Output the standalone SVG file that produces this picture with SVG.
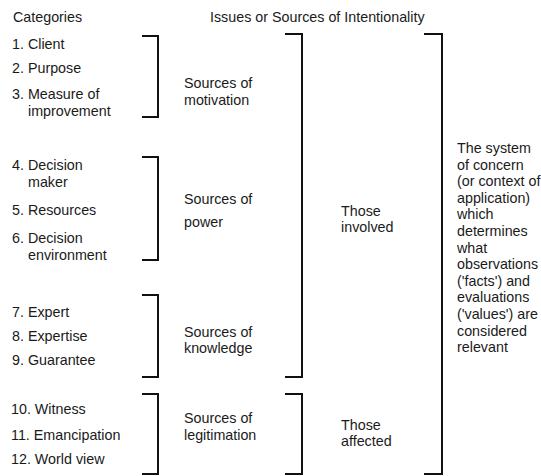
<svg xmlns="http://www.w3.org/2000/svg" width="541" height="476" viewBox="0 0 541 476">
<style>
text{font-family:"Liberation Sans",Arial,Helvetica,sans-serif;font-size:14.3px;fill:#1a1a1a}
.br{fill:none;stroke:#111;stroke-width:2}
</style>
<rect width="541" height="476" fill="#fff"/>
<g id="headers">
<text x="13" y="22">Categories</text>
<text x="210" y="22">Issues or Sources of Intentionality</text>
</g>
<g id="categories-motivation">
<text x="12" y="48.5">1. Client</text>
<text x="12" y="73">2. Purpose</text>
<text x="12" y="99">3. Measure of<tspan x="28" y="115.5">improvement</tspan></text>
</g>
<g id="categories-power">
<text x="12" y="170">4. Decision<tspan x="28" y="186.5">maker</tspan></text>
<text x="12" y="215">5. Resources</text>
<text x="12" y="243">6. Decision<tspan x="28" y="259.5">environment</tspan></text>
</g>
<g id="categories-knowledge">
<text x="12" y="317">7. Expert</text>
<text x="12" y="341">8. Expertise</text>
<text x="12" y="365">9. Guarantee</text>
</g>
<g id="categories-legitimation">
<text x="11" y="414">10. Witness</text>
<text x="11" y="440">11. Emancipation</text>
<text x="11" y="464">12. World view</text>
</g>
<g id="sources-motivation"><text x="184" y="88">Sources of</text><text x="184" y="105">motivation</text></g>
<g id="sources-power"><text x="184" y="204">Sources of</text><text x="184" y="227">power</text></g>
<g id="sources-knowledge"><text x="184" y="337">Sources of</text><text x="184" y="353">knowledge</text></g>
<g id="sources-legitimation"><text x="184" y="423">Sources of</text><text x="184" y="440">legitimation</text></g>
<g id="those-involved"><text x="341" y="216">Those</text><text x="341" y="232">involved</text></g>
<g id="those-affected"><text x="341" y="430">Those</text><text x="341" y="446">affected</text></g>
<g id="system-of-concern">
<text x="457" y="153">The system</text>
<text x="457" y="169.6">of concern</text>
<text x="457" y="186.2">(or context of</text>
<text x="457" y="202.8">application)</text>
<text x="457" y="219.4">which</text>
<text x="457" y="236">determines</text>
<text x="457" y="252.6">what</text>
<text x="457" y="269.2">observations</text>
<text x="457" y="285.8">('facts') and</text>
<text x="457" y="302.4">evaluations</text>
<text x="457" y="319">('values') are</text>
<text x="457" y="335.6">considered</text>
<text x="457" y="352.2">relevant</text>
</g>
<g id="connectors">
<path class="br" d="M142 36H158V117H142"/>
<path class="br" d="M142 157H158V260H142"/>
<path class="br" d="M142 295H158V377H142"/>
<path class="br" d="M142 394H158V474H142"/>
<path class="br" d="M285 34H302V377H285"/>
<path class="br" d="M285 394H302V474H285"/>
<path class="br" d="M424 34H442V474H424"/>
</g>
</svg>
